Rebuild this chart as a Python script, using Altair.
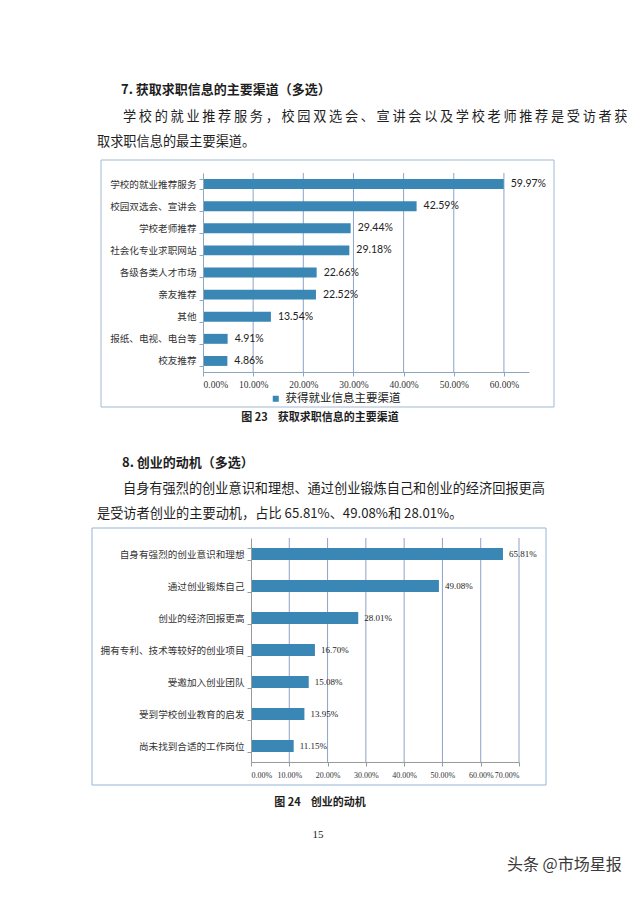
import altair as alt
import pandas as pd

CJK = "Noto Sans CJK SC"

# ---------- data ----------
cats1 = ["学校的就业推荐服务", "校园双选会、宣讲会", "学校老师推荐", "社会化专业求职网站",
         "各级各类人才市场", "亲友推荐", "其他", "报纸、电视、电台等", "校友推荐"]
vals1 = [0.5997, 0.4259, 0.2944, 0.2918, 0.2266, 0.2252, 0.1354, 0.0491, 0.0486]
series1 = "获得就业信息主要渠道"
ticks1 = [0.0, 0.1, 0.2, 0.3, 0.4, 0.5, 0.6]

cats2 = ["自身有强烈的创业意识和理想", "通过创业锻炼自己", "创业的经济回报更高",
         "拥有专利、技术等较好的创业项目", "受邀加入创业团队", "受到学校创业教育的启发",
         "尚未找到合适的工作岗位"]
vals2 = [0.6581, 0.4908, 0.2801, 0.1670, 0.1508, 0.1395, 0.1115]
ticks2 = [0.0, 0.1, 0.2, 0.3, 0.4, 0.5, 0.6, 0.7]

NB = "\u00a0"
title7 = "7." + NB + "获取求职信息的主要渠道（多选）"
para7_1 = "学校的就业推荐服务，校园双选会、宣讲会以及学校老师推荐是受访者获"
para7_2 = "取求职信息的最主要渠道。"
cap23 = "图" + NB + "23" + NB * 4 + "获取求职信息的主要渠道"
title8 = "8." + NB + "创业的动机（多选）"
para8_1 = "自身有强烈的创业意识和理想、通过创业锻炼自己和创业的经济回报更高"
para8_2 = "是受访者创业的主要动机，占比" + NB + "65.81%、49.08%和" + NB + "28.01%。"
cap24 = "图" + NB + "24" + NB * 4 + "创业的动机"
page_no = "15"
watermark = "头条" + NB + "@市场星报"

df1 = pd.DataFrame({"cat": cats1, "v": vals1, "s": [series1] * len(cats1)})
df2 = pd.DataFrame({"cat": cats2, "v": vals2})
g1 = pd.DataFrame({"t": ticks1[1:]})
g2 = pd.DataFrame({"t": ticks2[1:]})
one = pd.DataFrame({"a": [0]})

BAR = "#3A86B5"


def txt(s, x, y, size=13.2, weight="normal", align="left", font=CJK, color="#1e1e1e"):
    return alt.Chart(pd.DataFrame({"t": [s]})).mark_text(
        align=align, baseline="middle", fontSize=size, fontWeight=weight, font=font, color=color
    ).encode(text="t:N", x=alt.value(x), y=alt.value(y))


def box(x1, x2, y1, y2, color):
    return alt.Chart(one).mark_rect(fillOpacity=0, fill="white", stroke=color, strokeWidth=1).encode(
        x=alt.value(x1), x2=alt.value(x2), y=alt.value(y1), y2=alt.value(y2))


# justified first line of section 7 (one glyph per cell)
chars71 = pd.DataFrame({"ch": list(para7_1), "i": list(range(len(para7_1)))})
line71 = alt.Chart(chars71).transform_calculate(px="115 + datum.i * 15.85").mark_text(
    align="left", baseline="middle", fontSize=13.2, font=CJK, color="#1e1e1e"
).encode(x=alt.X("px:Q", scale=None), y=alt.value(109), text="ch:N")

# ---------- chart 1 ----------
xs1 = alt.Scale(domain=[0, 0.65], range=[195, 521], nice=False, zero=True)
ys1 = alt.Scale(domain=cats1, range=[165, 364], paddingInner=0.55, paddingOuter=0.275)
AX1 = "#8FA6C1"

grid1 = alt.Chart(g1).mark_rule(color="#8CA3C8", strokeWidth=1).encode(
    x=alt.X("t:Q", scale=xs1, axis=None), y=alt.value(165), y2=alt.value(364))

bars1 = alt.Chart(df1).mark_bar().encode(
    x=alt.X("v:Q", scale=xs1, axis=alt.Axis(
        orient="bottom", offset=-516, values=ticks1, format=".2%", grid=False, title=None,
        tickSize=4, tickColor=AX1, domainColor=AX1, labelFont="Liberation Serif",
        labelFontSize=9.5, labelColor="#333", labelPadding=3, labelOverlap=False, zindex=2)),
    y=alt.Y("cat:N", scale=ys1, sort=cats1, axis=alt.Axis(
        orient="left", offset=-195, tickBand="extent", tickSize=4, tickColor=AX1,
        domainColor=AX1, title=None, labelFont=CJK, labelFontSize=9.6, labelColor="#333",
        labelPadding=3, labelOverlap=False, zindex=2)),
    color=alt.Color("s:N", scale=alt.Scale(range=[BAR]), legend=alt.Legend(
        orient="none", legendX=262, legendY=385, title=None, symbolType="square",
        symbolSize=36, symbolStrokeWidth=0, labelFont=CJK, labelFontSize=11.5,
        labelColor="#222")),
)

labels1 = alt.Chart(df1).mark_text(align="left", baseline="middle", dx=7, font="Lato",
                                   fontSize=10.5, color="#222").encode(
    x=alt.X("v:Q", scale=xs1, axis=None),
    y=alt.Y("cat:N", scale=ys1, sort=cats1, axis=None),
    text=alt.Text("v:Q", format=".2%"))

# ---------- chart 2 ----------
xs2 = alt.Scale(domain=[0, 0.7], range=[243, 511], nice=False, zero=True)
ys2 = alt.Scale(domain=cats2, range=[530, 754], paddingInner=0.625, paddingOuter=0.3125)
AX2 = "#9A9A9A"

grid2 = alt.Chart(g2).mark_rule(color="#8CA3C8", strokeWidth=1).encode(
    x=alt.X("t:Q", scale=xs2, axis=None), y=alt.value(530), y2=alt.value(754))

bars2 = alt.Chart(df2).mark_bar(color=BAR).encode(
    x=alt.X("v:Q", scale=xs2, axis=alt.Axis(
        orient="bottom", offset=-126, values=ticks2, format=".2%", grid=False, title=None,
        tickSize=4, tickColor=AX2, domainColor=AX2, labelFont="Liberation Serif",
        labelFontSize=8, labelColor="#333", labelPadding=5, labelOverlap=False, zindex=2)),
    y=alt.Y("cat:N", scale=ys2, sort=cats2, axis=alt.Axis(
        orient="left", offset=-243, tickBand="extent", tickSize=4, tickColor=AX2,
        domainColor=AX2, title=None, labelFont=CJK, labelFontSize=9.6, labelColor="#333",
        labelPadding=3, labelOverlap=False, zindex=2)),
)

labels2 = alt.Chart(df2).mark_text(align="left", baseline="middle", dx=6,
                                   font="Liberation Serif", fontSize=9, color="#222").encode(
    x=alt.X("v:Q", scale=xs2, axis=None),
    y=alt.Y("cat:N", scale=ys2, sort=cats2, axis=None),
    text=alt.Text("v:Q", format=".2%"))

# ---------- page ----------
page = alt.layer(
    box(93, 546, 152, 399, "#A3B9D3"),
    box(84, 538, 520, 777, "#95B3D7"),
    txt(title7, 113, 82, size=13, weight="bold"),
    line71,
    txt(para7_2, 89, 134),
    txt(cap23, 312, 410, size=11, weight="bold", align="center"),
    txt(title8, 114, 455, size=13, weight="bold"),
    txt(para8_1, 115, 481),
    txt(para8_2, 89, 506),
    txt(cap24, 312, 795, size=11, weight="bold", align="center"),
    txt(page_no, 310, 827, size=11, font="Liberation Serif", align="center"),
    txt(watermark, 499, 857, size=16, color="#3a3a3a"),
    grid1, bars1, labels1,
    grid2, bars2, labels2,
).resolve_scale(x="independent", y="independent").properties(
    width=624, height=880, autosize="none", padding=0, background="white"
).configure_view(stroke=None)

page.save("out.html", embed_options={"renderer": "svg", "actions": False})
